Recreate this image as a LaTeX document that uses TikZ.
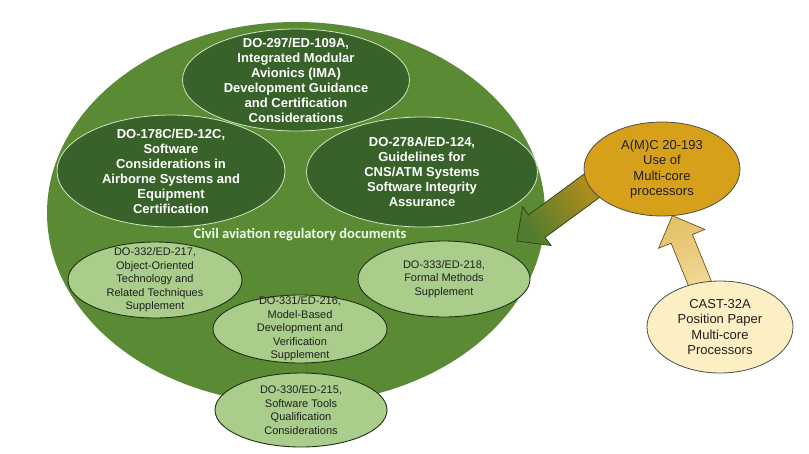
\documentclass[tikz,border=0pt]{standalone}
\usepackage{fontspec}
\setmainfont{Liberation Sans}
\newfontfamily\carlitofont{Carlito}
\usetikzlibrary{shapes.geometric,calc}
\definecolor{biggreen}{HTML}{5A8A34}
\definecolor{darkgreen}{HTML}{38622A}
\definecolor{lightgreen}{HTML}{AACD8C}
\definecolor{goldfill}{HTML}{D7A01A}
\definecolor{creamfill}{HTML}{FCEFC4}
\definecolor{ellline}{HTML}{1E3214}
\definecolor{paleline}{HTML}{D2E6C2}
\begin{document}
\begin{tikzpicture}[x=1pt,y=-1pt,
  ellbase/.style={ellipse, inner sep=0pt},
  darkell/.style={ellbase, fill=darkgreen, draw=paleline, line width=0.8pt},
  lightell/.style={ellbase, fill=lightgreen, draw=ellline, line width=0.9pt},
  darktext/.style={align=center, text=white, font=\bfseries\fontsize{13}{15}\selectfont},
  lighttext/.style={align=center, text=black!88, font=\fontsize{11}{13.5}\selectfont},
  sidetext/.style={align=center, text=black!88, font=\fontsize{13}{15.5}\selectfont},
  arrowone/.style={draw=black!55!biggreen, line width=0.7pt, bottom color=goldfill!90!black, top color=biggreen!90!black, shading angle=126.4},
  arrowtwo/.style={draw=black!60!goldfill, line width=0.6pt, bottom color=creamfill!85!goldfill, top color=goldfill!65!white, shading angle=22.3}]
\useasboundingbox (0,0) rectangle (809,453);

% big container ellipse
\node[ellbase, fill=biggreen, minimum width=498pt, minimum height=382pt] (big) at (296,213) {};

% dark ellipses
\node[darkell, minimum width=227pt, minimum height=102pt] (do297) at (296,80) {};
\node[darktext] (do297t) at (do297) {DO-297/ED-109A,\\Integrated Modular\\Avionics (IMA)\\Development Guidance\\and Certification\\Considerations};
\node[darkell, minimum width=228pt, minimum height=112pt] (do178) at (171,171) {};
\node[darktext] (do178t) at (do178) {DO-178C/ED-12C,\\Software\\Considerations in\\Airborne Systems and\\Equipment\\Certification};
\node[darkell, minimum width=231pt, minimum height=110pt] (do278) at (422,172) {};
\node[darktext] (do278t) at (do278) {DO-278A/ED-124,\\Guidelines for\\CNS/ATM Systems\\Software Integrity\\Assurance};

% title
\node[font=\carlitofont\bfseries\fontsize{14.5}{17}\selectfont, text=white!92!green] (civil) at (300,235) {Civil aviation regulatory documents};

% light ellipses
\node[lightell, minimum width=174pt, minimum height=76pt] (do332) at (155,280) {};
\node[lighttext] (do332t) at (do332) {DO-332/ED-217,\\Object-Oriented\\Technology and\\Related Techniques\\Supplement};
\node[lightell, minimum width=172pt, minimum height=76pt] (do333) at (444,279) {};
\node[lighttext] (do333t) at (do333) {DO-333/ED-218,\\Formal Methods\\Supplement};
\node[lightell, minimum width=174pt, minimum height=68pt] (do331) at (300,329) {};
\node[lighttext] (do331t) at (do331) {DO-331/ED-216,\\Model-Based\\Development and\\Verification\\Supplement};
\node[lightell, minimum width=172pt, minimum height=74pt] (do330) at (301,410) {};
\node[lighttext] (do330t) at (do330) {DO-330/ED-215,\\Software Tools\\Qualification\\Considerations};

% arrow 1: A(M)C -> civil documents
\coordinate (a1s) at (605,176);
\coordinate (a1t) at (516.7,241);
\coordinate (a1h) at ($(a1t)!25pt!(a1s)$);
\path[arrowone] ($(a1s)!14pt!90:(a1t)$) -- ($(a1h)!14pt!90:(a1t)$) -- ($(a1h)!24pt!90:(a1t)$) -- (a1t)
  -- ($(a1h)!24pt!-90:(a1t)$) -- ($(a1h)!14pt!-90:(a1t)$) -- ($(a1s)!14pt!-90:(a1t)$) -- cycle;

% arrow 2: CAST-32A -> A(M)C
\coordinate (a2s) at (714,318);
\coordinate (a2t) at (672.3,215.7);
\coordinate (a2h) at ($(a2t)!25pt!(a2s)$);
\path[arrowtwo] ($(a2s)!11.5pt!90:(a2t)$) -- ($(a2h)!11.5pt!90:(a2t)$) -- ($(a2h)!25pt!90:(a2t)$) -- (a2t)
  -- ($(a2h)!25pt!-90:(a2t)$) -- ($(a2h)!11.5pt!-90:(a2t)$) -- ($(a2s)!11.5pt!-90:(a2t)$) -- cycle;

% side ellipses
\node[ellbase, fill=goldfill, draw=black!70, line width=0.8pt, minimum width=156pt, minimum height=94pt] (amc) at (662,169) {};
\node[sidetext] (amct) at (amc) {A(M)C 20-193\\Use of\\Multi-core\\processors};
\node[ellbase, fill=creamfill, draw=black!70, line width=0.8pt, minimum width=146pt, minimum height=92pt] (cast) at (720,327) {};
\node[sidetext] (castt) at (cast) {CAST-32A\\Position Paper\\Multi-core\\Processors};
\end{tikzpicture}
\end{document}
